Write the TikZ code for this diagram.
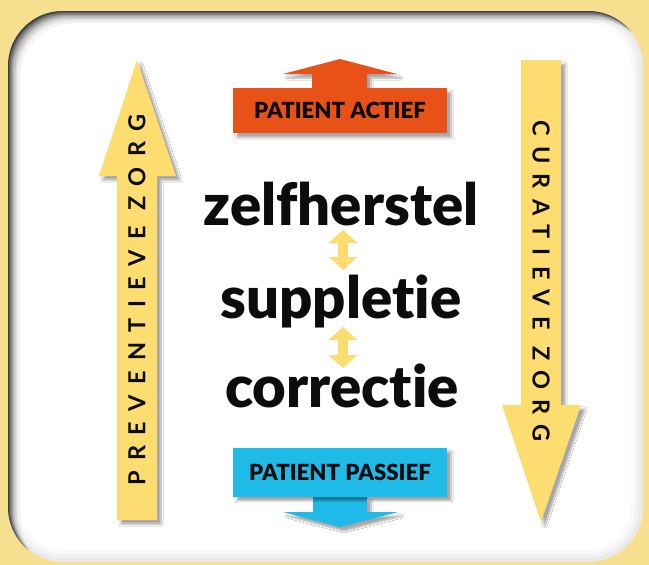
\documentclass[tikz,border=0pt]{standalone}
\usepackage{fontspec}
\setmainfont{Lato}
\newfontfamily\wordfont{Lato Black}[Ligatures=NoCommon]
\newfontfamily\zorgfont{Lato}[LetterSpace=44]
\usetikzlibrary{arrows.meta,calc,positioning,shadows.blur}
\definecolor{paperyellow}{RGB}{246,223,142}
\definecolor{zorgyellow}{RGB}{253,221,112}
\definecolor{actieforange}{RGB}{232,82,22}
\definecolor{passiefblue}{RGB}{30,186,232}
\definecolor{inkblack}{RGB}{12,12,12}
\tikzset{
  softshadow/.style={blur shadow={shadow xshift=4pt,shadow yshift=-4pt,
    shadow blur steps=6,shadow opacity=35}},
  zorgarrow/.style={fill=zorgyellow,softshadow},
  statebox/.style={minimum width=214pt,inner sep=0pt,
    font=\wordfont\fontsize{22.2}{22.2}\selectfont,text=inkblack,softshadow},
  word/.style={font=\wordfont\fontsize{58}{58}\selectfont,anchor=base,
    inner sep=0pt,text=inkblack},
  zorglab/.style={font=\zorgfont\bfseries\fontsize{23.5}{23.5}\selectfont,
    inner sep=0pt,text=inkblack},
  swapflow/.style={{Triangle[width=29pt,length=13pt,line width=0pt]}-%
    {Triangle[width=29pt,length=13pt,line width=0pt]},
    line width=10pt,draw=zorgyellow}
}

\begin{document}
\begin{tikzpicture}[x=1pt,y=-1pt]
  \useasboundingbox (0,0) rectangle (649,565);
  \fill[paperyellow] (0,0) rectangle (649,565);

  % white panel with inner shadow
  \fill[white,rounded corners=55pt] (8,11) rectangle (643,562);
  \begin{scope}
    \clip[rounded corners=55pt] (8,11) rectangle (643,562);
    \foreach \d/\o in {1/0.3,2/0.25,3.5/0.2,5/0.15,7/0.1,9/0.07,12/0.04}
      \fill[black,opacity=\o,even odd rule,rounded corners=55pt]
        (-60,-60) rectangle (710,630)
        ([shift={(\d,\d)}]8,11) rectangle ([shift={(\d,\d)}]643,562);
    \foreach \w/\o in {8/0.03,16/0.03,24/0.02}
      \draw[black,opacity=\o,line width=\w pt,rounded corners=55pt]
        (8,11) rectangle (643,562);
  \end{scope}

  % side arrows
  \fill[zorgarrow] (137,60) -- (176,176) -- (157,176) -- (157,520)
    -- (117,520) -- (117,176) -- (99,176) -- cycle;
  \fill[zorgarrow] (521,60) -- (561,60) -- (561,405) -- (581,405)
    -- (541,522) -- (502,405) -- (521,405) -- cycle;
  \node[zorglab,rotate=90] (preventief) at (137,300) {PREVENTIEVE ZORG};
  \node[zorglab,rotate=-90] (curatief) at (541,281) {CURATIEVE ZORG};

  % patient boxes
  \coordinate (actieftop) at (340,88);
  \fill[actieforange,softshadow] ($(actieftop)+(-28,0)$) -- ++(0,-14)
    -- ++(-29,0) -- ($(actieftop)+(0,-29)$) -- ($(actieftop)+(57,-14)$)
    -- ++(-30,0) -- ++(0,14) -- cycle;
  \node[statebox,fill=actieforange,minimum height=45pt,below=0pt of actieftop]
    (actief) {PATIENT ACTIEF};

  \coordinate (passiefbottom) at (340,497);
  \fill[passiefblue,softshadow] ($(passiefbottom)+(-27,0)$) -- ++(0,15)
    -- ++(-30,0) -- ($(passiefbottom)+(0,30)$) -- ($(passiefbottom)+(58,15)$)
    -- ++(-31,0) -- ++(0,-15) -- cycle;
  \node[statebox,fill=passiefblue,minimum height=49pt,above=0pt of passiefbottom]
    (passief) {PATIENT PASSIEF};

  % care levels
  \node[word] (zelf) at (341,225) {zelfherstel};
  \node[word] (supp) at (341,318) {suppletie};
  \node[word] (corr) at (342,407) {correctie};
  \draw[swapflow] ($(zelf.base)+(2,5)$) -- ($(supp.base)+(2,-48)$);
  \draw[swapflow] ($(supp.base)+(2,9)$) -- ($(corr.base)+(1,-39)$);
\end{tikzpicture}
\end{document}
